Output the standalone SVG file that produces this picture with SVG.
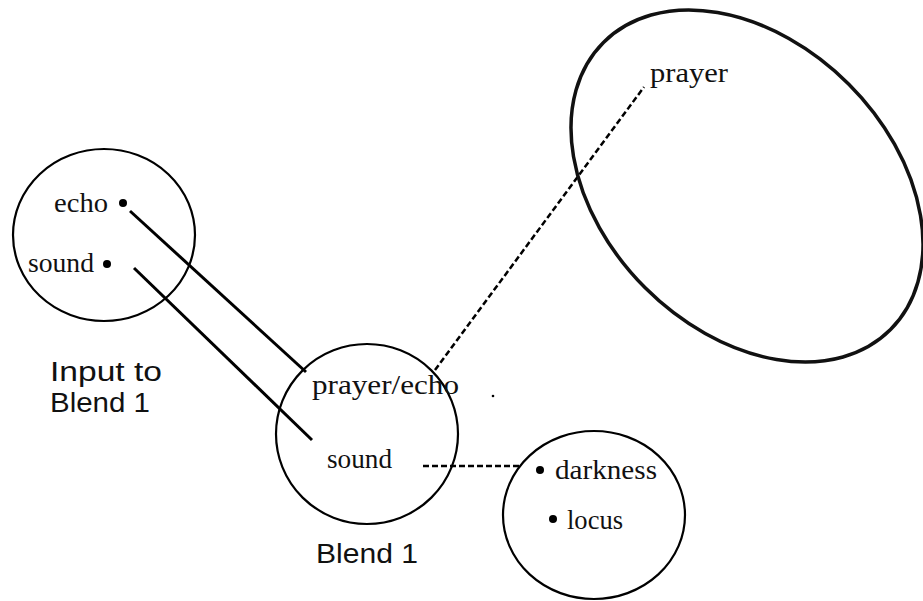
<svg xmlns="http://www.w3.org/2000/svg" width="923" height="601" viewBox="0 0 923 601">
<style>
.ring{fill:none;stroke:#000;stroke-width:2.2}
.thick{fill:none;stroke:#111;stroke-width:3.5}
.serif{font-family:"Liberation Serif","Times New Roman",serif;font-size:28px;fill:#111}
.sans{font-family:"Liberation Sans",Arial,sans-serif;font-size:27px;fill:#111}
.solid{stroke:#000;stroke-width:3;fill:none}
.dash{stroke:#000;stroke-width:2.5;fill:none;stroke-dasharray:6 3}
.dot{fill:#000}
</style>
<rect width="923" height="601" fill="#fff"/>
<g id="connectors">
<line class="solid" x1="130" y1="211" x2="306" y2="372"/>
<line class="solid" x1="134" y1="268" x2="312" y2="440"/>
<line class="dash" x1="435" y1="370" x2="644" y2="87"/>
<line class="dash" x1="423" y1="466" x2="520" y2="466"/>
</g>
<g id="input1">
<ellipse class="ring" cx="104" cy="235" rx="91" ry="86"/>
<text class="serif" x="54" y="212" textLength="54" lengthAdjust="spacingAndGlyphs">echo</text>
<circle class="dot" cx="123" cy="203" r="4"/>
<text class="serif" x="28" y="272" textLength="66" lengthAdjust="spacingAndGlyphs">sound</text>
<circle class="dot" cx="107" cy="264" r="4"/>
<text class="sans" x="50" y="381" textLength="112" lengthAdjust="spacingAndGlyphs">Input to</text>
<text class="sans" x="50" y="412" textLength="100" lengthAdjust="spacingAndGlyphs">Blend 1</text>
</g>
<g id="blend1">
<ellipse class="ring" cx="367" cy="434" rx="91" ry="90"/>
<text class="serif" x="312" y="394" textLength="147" lengthAdjust="spacingAndGlyphs">prayer/echo</text>
<text class="serif" x="327" y="468" textLength="65" lengthAdjust="spacingAndGlyphs">sound</text>
<circle class="dot" cx="493" cy="396" r="1.3"/>
<text class="sans" x="316" y="563" textLength="102" lengthAdjust="spacingAndGlyphs">Blend 1</text>
</g>
<g id="prayer-space">
<ellipse class="thick" cx="747" cy="186" rx="203" ry="144" transform="rotate(45 747 186)"/>
<text class="serif" x="650" y="82" textLength="78" lengthAdjust="spacingAndGlyphs">prayer</text>
</g>
<g id="darkness-space">
<ellipse class="ring" cx="594" cy="515" rx="91" ry="84"/>
<circle class="dot" cx="540" cy="470" r="4"/>
<text class="serif" x="555" y="479" textLength="102" lengthAdjust="spacingAndGlyphs">darkness</text>
<circle class="dot" cx="553" cy="519" r="4"/>
<text class="serif" x="567" y="529" textLength="56" lengthAdjust="spacingAndGlyphs">locus</text>
</g>
</svg>
